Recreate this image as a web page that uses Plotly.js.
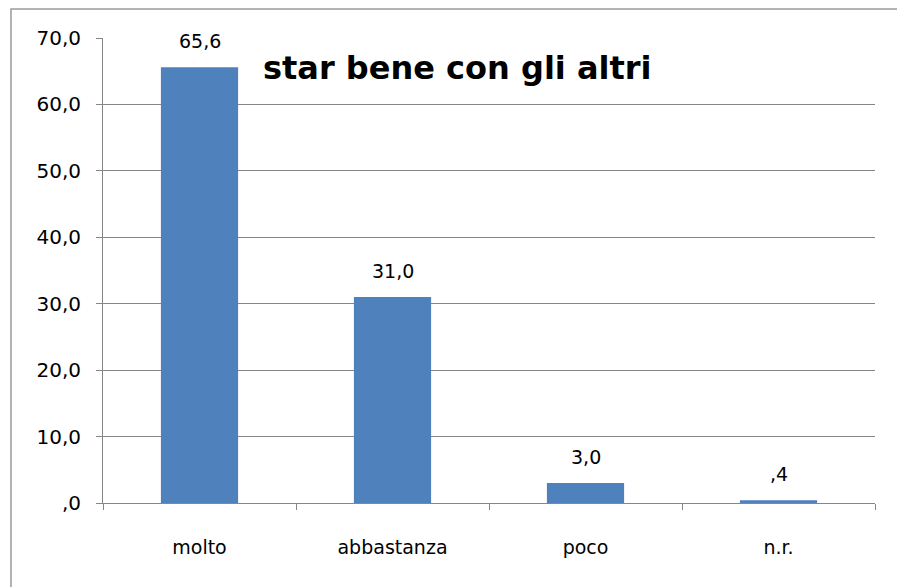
<!DOCTYPE html>
<html>
<head>
<meta charset="utf-8">
<script src="https://cdn.plot.ly/plotly-3.0.1.min.js"></script>
<style>html,body{margin:0;padding:0;background:#fff;}#chart{width:897px;height:587px;}</style>
</head>
<body>
<div id="chart"></div>
<script>
var categories = ["molto", "abbastanza", "poco", "n.r."];
var values = [65.6, 31.0, 3.0, 0.4];
var valueLabels = ["65,6", "31,0", "3,0", ",4"];
var yTickVals = [0, 10, 20, 30, 40, 50, 60, 70];
var yTickText = [",0", "10,0", "20,0", "30,0", "40,0", "50,0", "60,0", "70,0"];
var chartTitle = "star bene con gli altri";

var W = 897, H = 587;
var m = {l: 103, r: 22, t: 38, b: 84};
var pw = W - m.l - m.r, ph = H - m.t - m.b;
function px(x) { return (x - m.l) / pw; }
function py(y) { return (H - m.b - y) / ph; }

var FONT = "DejaVu Sans, Verdana, sans-serif";

var trace = {
  type: "bar",
  x: categories,
  y: values,
  marker: {color: "#4F81BD"},
  hoverinfo: "none"
};

var labelAnnotations = categories.map(function (c, i) {
  return {
    x: c, y: values[i], xref: "x", yref: "y",
    text: valueLabels[i],
    showarrow: false,
    yanchor: "bottom", xanchor: "center",
    yshift: 13,
    font: {family: FONT, size: 19, color: "#000"}
  };
});

var layout = {
  width: W, height: H,
  margin: m,
  paper_bgcolor: "#fff",
  plot_bgcolor: "#fff",
  showlegend: false,
  bargap: 0.6,
  font: {family: FONT, size: 19, color: "#000"},
  xaxis: {
    type: "category",
    tickson: "boundaries",
    ticks: "outside",
    ticklen: 6,
    tickcolor: "#868686",
    showline: true,
    linecolor: "#868686",
    linewidth: 1,
    showgrid: false,
    tickfont: {family: FONT, size: 19, color: "#000"},
    ticklabelstandoff: 27,
    fixedrange: true
  },
  yaxis: {
    range: [0, 70],
    tickvals: yTickVals,
    ticktext: yTickText,
    ticks: "outside",
    ticklen: 6,
    tickcolor: "#868686",
    showline: true,
    linecolor: "#868686",
    showgrid: true,
    gridcolor: "#868686",
    gridwidth: 1,
    zeroline: false,
    tickfont: {family: FONT, size: 20, color: "#000"},
    ticklabelstandoff: 11,
    fixedrange: true
  },
  annotations: labelAnnotations.concat([{
    text: "<b>" + chartTitle + "</b>",
    xref: "paper", yref: "paper",
    x: px(261), y: py(68),
    xanchor: "left", yanchor: "middle",
    showarrow: false,
    font: {family: FONT, size: 32, color: "#000"}
  }]),
  shapes: [{
    type: "rect", xref: "paper", yref: "paper",
    x0: px(11), x1: px(905), y0: py(9), y1: py(600),
    line: {color: "#9a9a9a", width: 1.5},
    fillcolor: "rgba(0,0,0,0)",
    layer: "below"
  }]
};

Plotly.newPlot("chart", [trace], layout, {displayModeBar: false, staticPlot: true});
</script>
</body>
</html>
